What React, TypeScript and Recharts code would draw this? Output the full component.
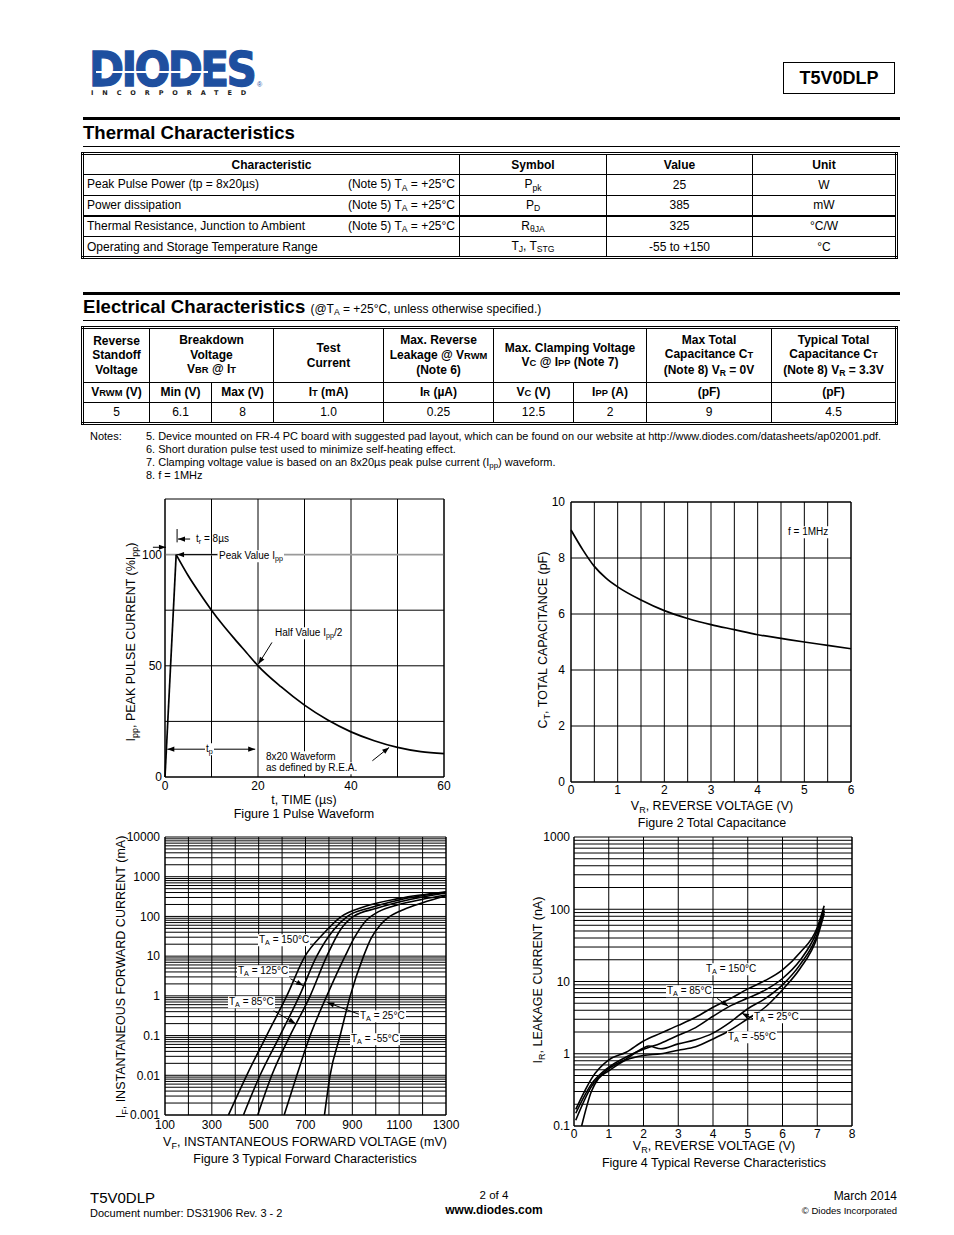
import React from 'react';
import { LineChart, Line, XAxis, YAxis, CartesianGrid, ReferenceLine } from 'recharts';

const FONT = "'Liberation Sans', Arial, Helvetica, sans-serif";
const BLUE = '#1e4f9f';

// ---------- Figure 1: pulse waveform ----------
const fig1Rise = [{ t: 0, i: 0 }, { t: 2.4, i: 100 }];
const fig1Decay = [
  { t: 2.4, i: 100 }, { t: 5, i: 90.5 }, { t: 7.5, i: 82.5 }, { t: 10, i: 75 }, { t: 12.5, i: 68.2 },
  { t: 15, i: 62 }, { t: 17.5, i: 56 }, { t: 20, i: 50 }, { t: 25, i: 40.5 }, { t: 30, i: 32.3 },
  { t: 35, i: 25.6 }, { t: 40, i: 20.3 }, { t: 45, i: 16.3 }, { t: 50, i: 13.3 }, { t: 55, i: 11.4 },
  { t: 60, i: 10.5 },
];
const fig1XGrid = [0, 10, 20, 30, 40, 50, 60];
const fig1XLabels = [0, 20, 40, 60];
const fig1YGrid = [0, 25, 50, 75, 100, 125];
const fig1YLabels = [0, 50, 100];

// ---------- Figure 2: total capacitance ----------
const fig2Cap = [
  { v: 0, c: 9.0 }, { v: 0.25, c: 8.3 }, { v: 0.5, c: 7.7 }, { v: 0.75, c: 7.28 }, { v: 1, c: 6.97 },
  { v: 1.5, c: 6.5 }, { v: 2, c: 6.12 }, { v: 2.5, c: 5.84 }, { v: 3, c: 5.62 }, { v: 3.5, c: 5.44 },
  { v: 4, c: 5.26 }, { v: 4.5, c: 5.13 }, { v: 5, c: 5.0 }, { v: 5.5, c: 4.88 }, { v: 6, c: 4.76 },
];
const fig2XGrid = [0, 0.5, 1, 1.5, 2, 2.5, 3, 3.5, 4, 4.5, 5, 5.5, 6];
const fig2YGrid = [0, 2, 4, 6, 8, 10];

// ---------- Figure 3: forward characteristics (mV, mA) ----------
const fwd150 = [
  { v: 371, i: 0.001 }, { v: 449, i: 0.01 }, { v: 534, i: 0.1 }, { v: 620, i: 1 }, { v: 698, i: 10 },
  { v: 777, i: 37 }, { v: 848, i: 95 }, { v: 950, i: 175 }, { v: 1100, i: 285 }, { v: 1300, i: 420 },
];
const fwd125 = [
  { v: 435, i: 0.001 }, { v: 506, i: 0.01 }, { v: 591, i: 0.1 }, { v: 674, i: 1 }, { v: 748, i: 10 },
  { v: 819, i: 45 }, { v: 879, i: 100 }, { v: 976, i: 165 }, { v: 1100, i: 260 }, { v: 1300, i: 405 },
];
const fwd85 = [
  { v: 496, i: 0.001 }, { v: 556, i: 0.01 }, { v: 634, i: 0.1 }, { v: 720, i: 1 }, { v: 791, i: 10 },
  { v: 848, i: 45 }, { v: 905, i: 100 }, { v: 1004, i: 160 }, { v: 1150, i: 270 }, { v: 1300, i: 390 },
];
const fwd25 = [
  { v: 609, i: 0.001 }, { v: 663, i: 0.01 }, { v: 720, i: 0.1 }, { v: 791, i: 1 }, { v: 869, i: 10 },
  { v: 910, i: 30 }, { v: 960, i: 80 }, { v: 1010, i: 130 }, { v: 1100, i: 200 }, { v: 1200, i: 270 },
  { v: 1300, i: 345 },
];
const fwdM55 = [
  { v: 781, i: 0.001 }, { v: 805, i: 0.01 }, { v: 848, i: 0.1 }, { v: 891, i: 1 }, { v: 948, i: 10 },
  { v: 980, i: 28 }, { v: 1020, i: 62 }, { v: 1060, i: 100 }, { v: 1120, i: 150 }, { v: 1200, i: 220 },
  { v: 1300, i: 330 },
];
const fig3XGrid = [100, 200, 300, 400, 500, 600, 700, 800, 900, 1000, 1100, 1200, 1300];
const fig3XLabels = [100, 300, 500, 700, 900, 1100, 1300];

// ---------- Figure 4: reverse characteristics (V, nA) ----------
const rev150 = [
  { v: 0.05, i: 0.17 }, { v: 0.3, i: 0.3 }, { v: 0.5, i: 0.45 }, { v: 1, i: 0.82 }, { v: 1.5, i: 1.05 },
  { v: 2, i: 1.5 }, { v: 2.5, i: 1.93 }, { v: 3, i: 2.47 }, { v: 3.5, i: 3.2 }, { v: 4, i: 4.4 },
  { v: 4.5, i: 5.8 }, { v: 5, i: 7.9 }, { v: 5.5, i: 10.3 }, { v: 6, i: 14.5 }, { v: 6.5, i: 25 },
  { v: 7, i: 56 }, { v: 7.2, i: 112 },
];
const rev85 = [
  { v: 0.05, i: 0.15 }, { v: 0.5, i: 0.38 }, { v: 1, i: 0.65 }, { v: 1.5, i: 0.9 }, { v: 2, i: 1.15 },
  { v: 2.5, i: 1.4 }, { v: 3, i: 1.8 }, { v: 3.5, i: 2.3 }, { v: 4, i: 3.3 }, { v: 4.5, i: 4.6 },
  { v: 5, i: 5.9 }, { v: 5.5, i: 7.6 }, { v: 6, i: 11 }, { v: 6.5, i: 19.5 }, { v: 7, i: 51 }, { v: 7.2, i: 101 },
];
const rev25 = [
  { v: 0.05, i: 0.12 }, { v: 0.5, i: 0.35 }, { v: 1, i: 0.62 }, { v: 1.5, i: 0.85 }, { v: 2, i: 1.2 },
  { v: 2.15, i: 1.28 }, { v: 2.5, i: 1.17 }, { v: 3, i: 1.37 }, { v: 3.5, i: 1.56 }, { v: 4, i: 1.93 },
  { v: 4.5, i: 2.74 }, { v: 5, i: 4.2 }, { v: 5.5, i: 5.8 }, { v: 6, i: 9 }, { v: 6.5, i: 17 },
  { v: 7, i: 45 }, { v: 7.2, i: 95 },
];
const revM55 = [
  { v: 0.22, i: 0.1 }, { v: 0.5, i: 0.3 }, { v: 0.7, i: 0.45 }, { v: 1, i: 0.58 }, { v: 1.5, i: 0.82 },
  { v: 2, i: 0.95 }, { v: 2.5, i: 1.0 }, { v: 3, i: 1.12 }, { v: 3.5, i: 1.25 }, { v: 4, i: 1.6 },
  { v: 4.4, i: 2.0 }, { v: 5, i: 3.05 }, { v: 5.5, i: 4.4 }, { v: 6, i: 7.7 }, { v: 6.5, i: 15 },
  { v: 7, i: 41 }, { v: 7.2, i: 87 },
];
const fig4XGrid = [0, 1, 2, 3, 4, 5, 6, 7, 8];

// ---------- annotation arrows (data coordinates) ----------
const fig1Arrows = [
  { a: { x: 5.4, y: 107 }, b: { x: 2.8, y: 107 }, both: false },
  { a: { x: -2.6, y: 103.3 }, b: { x: 0.2, y: 103.3 }, both: false },
  { a: { x: 11.2, y: 100 }, b: { x: 2.6, y: 100 }, both: false },
  { a: { x: 23, y: 60.5 }, b: { x: 20.1, y: 50.8 }, both: false },
  { a: { x: 0.5, y: 12.5 }, b: { x: 19.4, y: 12.5 }, both: true },
  { a: { x: 44.6, y: 7.3 }, b: { x: 48.2, y: 13.3 }, both: false },
];
const fig3Arrows = [
  { a: { x: 636, y: 2.69 }, b: { x: 690, y: 1.81 }, both: false },
  { a: { x: 564, y: 0.42 }, b: { x: 657, y: 0.2 }, both: false },
  { a: { x: 928, y: 0.345 }, b: { x: 793, y: 0.68 }, both: false },
];
const fig4Arrows = [
  { a: { x: 4.12, y: 5.83 }, b: { x: 4.44, y: 4.56 }, both: false },
  { a: { x: 5.18, y: 3.0 }, b: { x: 4.83, y: 3.64 }, both: false },
];

function logTicks(e0: number, e1: number) {
  const out: number[] = [];
  for (let e = e0; e < e1; e++) {
    for (let m = 1; m <= 9; m++) out.push(Number((m * Math.pow(10, e)).toPrecision(3)));
  }
  out.push(Number(Math.pow(10, e1).toPrecision(3)));
  return out;
}
const isDecade = (v: number) => Math.abs(Math.log10(v) - Math.round(Math.log10(v))) < 1e-6;

const tickStyle = { fill: '#000', fontSize: 12, fontFamily: FONT };

function arrowShape(both: boolean) {
  return (p: any) => {
    const { x1, y1, x2, y2 } = p;
    const ang = Math.atan2(y2 - y1, x2 - x1);
    const L = 7, W = 2.6;
    const tri = (x: number, y: number, a: number) => {
      const bx = x - L * Math.cos(a), by = y - L * Math.sin(a);
      return `${x},${y} ${bx + W * Math.sin(a)},${by - W * Math.cos(a)} ${bx - W * Math.sin(a)},${by + W * Math.cos(a)}`;
    };
    return (
      <g>
        <line x1={x1} y1={y1} x2={x2} y2={y2} stroke="#000" strokeWidth={1} />
        <polygon points={tri(x2, y2, ang)} fill="#000" />
        {both ? <polygon points={tri(x1, y1, ang + Math.PI)} fill="#000" /> : null}
      </g>
    );
  };
}

const Sub = ({ children }: { children: React.ReactNode }) => (
  <span style={{ fontSize: '0.72em', position: 'relative', top: '0.28em' }}>{children}</span>
);
const Sm = ({ children }: { children: React.ReactNode }) => (
  <span style={{ fontSize: '0.78em' }}>{children}</span>
);

type TP = {
  x: number; y: number; a?: 's' | 'm' | 'e'; s?: number; b?: boolean; bg?: boolean; r?: boolean;
  children: React.ReactNode; style?: React.CSSProperties;
};
const Tx = ({ x, y, a = 's', s = 12, b, bg, r, children, style }: TP) => {
  const tx = r ? '-50%' : a === 's' ? '0' : a === 'm' ? '-50%' : '-100%';
  return (
    <div
      style={{
        position: 'absolute', left: x, top: y,
        transform: `translate(${tx},-50%)${r ? ' rotate(-90deg)' : ''}`,
        fontSize: s, fontWeight: b ? 700 : 400, whiteSpace: 'nowrap', lineHeight: 1.15,
        background: bg ? '#fff' : undefined, padding: bg ? '0 1px' : undefined, zIndex: 2, ...style,
      }}
    >
      {children}
    </div>
  );
};

const cell: React.CSSProperties = { border: '1px solid #000', padding: '0 4px', textAlign: 'center', verticalAlign: 'middle' };

// ---------- charts ----------
const YW = 45, XH = 25, MT = 10, MR = 15;

function Fig1() {
  const P = { x: 165, y: 499, w: 279, h: 278 };
  return (
    <div style={{ position: 'absolute', left: P.x - YW, top: P.y - MT }}>
      <LineChart width={YW + P.w + MR} height={MT + P.h + XH} margin={{ top: MT, right: MR, bottom: 0, left: 0 }}>
        <CartesianGrid horizontal={false} stroke="#000" strokeDasharray="" />
        <XAxis type="number" dataKey="t" domain={[0, 60]} ticks={fig1XGrid} interval={0}
          tickFormatter={(v: number) => (fig1XLabels.includes(v) ? String(v) : '')}
          height={XH} tickSize={0} tickMargin={4} axisLine={{ stroke: '#000' }} tick={tickStyle} />
        <YAxis type="number" domain={[0, 125]} ticks={fig1YLabels} interval={0} width={YW}
          tickSize={0} tickMargin={3} axisLine={{ stroke: '#000' }} tick={tickStyle} />
        {fig1YGrid.map((g) => (
          <ReferenceLine key={'h' + g} y={g} stroke={g === 100 ? '#9a9a9a' : '#000'} strokeWidth={g === 100 ? 1.6 : 1} ifOverflow="visible" />
        ))}
        <ReferenceLine x={60} stroke="#000" ifOverflow="visible" />
        <ReferenceLine segment={[{ x: 2.6, y: 105.5 }, { x: 2.6, y: 111.5 }]} stroke="#000" ifOverflow="visible" />
        {fig1Arrows.map((ar, k) => (
          <ReferenceLine key={'a' + k} segment={[ar.a, ar.b]} ifOverflow="visible" shape={arrowShape(ar.both)} />
        ))}
        <Line data={fig1Rise} dataKey="i" type="linear" stroke="#000" strokeWidth={1.7} dot={false} isAnimationActive={false} />
        <Line data={fig1Decay} dataKey="i" type="monotone" stroke="#000" strokeWidth={1.7} dot={false} isAnimationActive={false} />
      </LineChart>
    </div>
  );
}

function Fig2() {
  const P = { x: 571, y: 502, w: 280, h: 280 };
  return (
    <div style={{ position: 'absolute', left: P.x - YW, top: P.y - MT }}>
      <LineChart width={YW + P.w + MR} height={MT + P.h + XH} margin={{ top: MT, right: MR, bottom: 0, left: 0 }}>
        <CartesianGrid stroke="#000" strokeDasharray="" />
        <XAxis type="number" dataKey="v" domain={[0, 6]} ticks={fig2XGrid} interval={0}
          tickFormatter={(v: number) => (Number.isInteger(v) ? String(v) : '')}
          height={XH} tickSize={0} tickMargin={3} axisLine={{ stroke: '#000' }} tick={tickStyle} />
        <YAxis type="number" domain={[0, 10]} ticks={fig2YGrid} interval={0} width={YW}
          tickSize={0} tickMargin={6} axisLine={{ stroke: '#000' }} tick={tickStyle} />
        <ReferenceLine x={6} stroke="#000" ifOverflow="visible" />
        <ReferenceLine y={10} stroke="#000" ifOverflow="visible" />
        <Line data={fig2Cap} dataKey="c" type="monotone" stroke="#000" strokeWidth={1.7} dot={false} isAnimationActive={false} />
      </LineChart>
    </div>
  );
}

const fig3YTicks = logTicks(-3, 4);
function Fig3() {
  const P = { x: 165, y: 837, w: 281, h: 278 };
  const series = [fwd150, fwd125, fwd85, fwd25, fwdM55];
  return (
    <div style={{ position: 'absolute', left: P.x - YW, top: P.y - MT }}>
      <LineChart width={YW + P.w + MR} height={MT + P.h + XH} margin={{ top: MT, right: MR, bottom: 0, left: 0 }}>
        <CartesianGrid stroke="#000" strokeDasharray="" strokeWidth={1} />
        <XAxis type="number" dataKey="v" domain={[100, 1300]} ticks={fig3XGrid} interval={0}
          tickFormatter={(v: number) => (fig3XLabels.includes(v) ? String(v) : '')}
          height={XH} tickSize={0} tickMargin={5} axisLine={{ stroke: '#000' }} tick={tickStyle} />
        <YAxis type="number" scale="log" domain={[0.001, 10000]} allowDataOverflow ticks={fig3YTicks} interval={0} width={YW}
          tickFormatter={(v: number) => (isDecade(v) ? String(v) : '')}
          tickSize={0} tickMargin={5} axisLine={{ stroke: '#000' }} tick={tickStyle} />
        <ReferenceLine x={1300} stroke="#000" ifOverflow="visible" />
        {fig3Arrows.map((ar, k) => (
          <ReferenceLine key={'a' + k} segment={[ar.a, ar.b]} ifOverflow="visible" shape={arrowShape(ar.both)} />
        ))}
        {series.map((d, k) => (
          <Line key={k} data={d} dataKey="i" type="monotone" stroke="#000" strokeWidth={1.6} dot={false} isAnimationActive={false} />
        ))}
      </LineChart>
    </div>
  );
}

const fig4YTicks = logTicks(-1, 3);
function Fig4() {
  const P = { x: 574, y: 837, w: 278, h: 289 };
  const series = [rev150, rev85, rev25, revM55];
  return (
    <div style={{ position: 'absolute', left: P.x - YW, top: P.y - MT }}>
      <LineChart width={YW + P.w + MR} height={MT + P.h + XH} margin={{ top: MT, right: MR, bottom: 0, left: 0 }}>
        <CartesianGrid stroke="#000" strokeDasharray="" strokeWidth={1} />
        <XAxis type="number" dataKey="v" domain={[0, 8]} ticks={fig4XGrid} interval={0}
          height={XH} tickSize={0} tickMargin={3} axisLine={{ stroke: '#000' }} tick={tickStyle} />
        <YAxis type="number" scale="log" domain={[0.1, 1000]} allowDataOverflow ticks={fig4YTicks} interval={0} width={YW}
          tickFormatter={(v: number) => (isDecade(v) ? String(v) : '')}
          tickSize={0} tickMargin={4} axisLine={{ stroke: '#000' }} tick={tickStyle} />
        <ReferenceLine x={8} stroke="#000" ifOverflow="visible" />
        {fig4Arrows.map((ar, k) => (
          <ReferenceLine key={'a' + k} segment={[ar.a, ar.b]} ifOverflow="visible" shape={arrowShape(ar.both)} />
        ))}
        {series.map((d, k) => (
          <Line key={k} data={d} dataKey="i" type="monotone" stroke="#000" strokeWidth={1.6} dot={false} isAnimationActive={false} />
        ))}
      </LineChart>
    </div>
  );
}

export default function App() {
  const rule = (top: number, h: number): React.CSSProperties => ({ position: 'absolute', left: 83, top, width: 817, height: h, background: '#000' });
  return (
    <div style={{ position: 'absolute', left: 0, top: 0, width: 954, height: 1235, background: '#fff', fontFamily: FONT, color: '#000', overflow: 'hidden' }}>
      {/* Logo */}
      <div style={{ position: 'absolute', left: 89, top: 50, fontFamily: "'DejaVu Sans', sans-serif", fontWeight: 700, fontSize: 48, lineHeight: 0.8, color: BLUE, WebkitTextStroke: `1.3px ${BLUE}`, letterSpacing: -3, transform: 'scaleX(0.88)', transformOrigin: 'left top', whiteSpace: 'nowrap' }}>DIODES</div>
      <div style={{ position: 'absolute', left: 96, top: 71, width: 112, height: 1.6, background: '#fff' }} />
      <div style={{ position: 'absolute', left: 257, top: 81, fontSize: 7, lineHeight: 1, color: BLUE }}>®</div>
      <div style={{ position: 'absolute', left: 91, top: 90, fontFamily: "'DejaVu Sans', sans-serif", fontWeight: 700, fontSize: 6.5, lineHeight: 1, letterSpacing: 8.9, whiteSpace: 'nowrap', color: '#222' }}>INCORPORATED</div>

      {/* part number box */}
      <div style={{ position: 'absolute', left: 783, top: 62, width: 110, height: 30, border: '1.5px solid #000', display: 'flex', alignItems: 'center', justifyContent: 'center', fontWeight: 700, fontSize: 18 }}>T5V0DLP</div>

      {/* Thermal */}
      <div style={rule(117, 3)} />
      <Tx x={83} y={133} s={18.6} b>Thermal Characteristics</Tx>
      <div style={rule(146, 1.3)} />
      <table style={{ position: 'absolute', left: 81, top: 152, width: 817, borderCollapse: 'collapse', border: '3px double #000', tableLayout: 'fixed', fontSize: 12, lineHeight: '14px' }}>
        <colgroup><col style={{ width: 377 }} /><col style={{ width: 147 }} /><col style={{ width: 146 }} /><col /></colgroup>
        <tbody>
          <tr style={{ height: 21 }}>
            <th style={cell}>Characteristic</th><th style={cell}>Symbol</th><th style={cell}>Value</th><th style={cell}>Unit</th>
          </tr>
          <tr style={{ height: 20.5 }}>
            <td style={{ ...cell, textAlign: 'left', padding: '0 4px 0 3px' }}><div style={{ display: 'flex', justifyContent: 'space-between' }}><span>Peak Pulse Power (tp = 8x20µs)</span><span>(Note 5) T<Sub>A</Sub> = +25°C</span></div></td>
            <td style={cell}>P<Sub>pk</Sub></td><td style={cell}>25</td><td style={cell}>W</td>
          </tr>
          <tr style={{ height: 20.5 }}>
            <td style={{ ...cell, textAlign: 'left', padding: '0 4px 0 3px' }}><div style={{ display: 'flex', justifyContent: 'space-between' }}><span>Power dissipation</span><span>(Note 5) T<Sub>A</Sub> = +25°C</span></div></td>
            <td style={cell}>P<Sub>D</Sub></td><td style={cell}>385</td><td style={cell}>mW</td>
          </tr>
          <tr style={{ height: 21 }}>
            <td style={{ ...cell, borderTop: '2px solid #000', textAlign: 'left', padding: '0 4px 0 3px' }}><div style={{ display: 'flex', justifyContent: 'space-between' }}><span>Thermal Resistance, Junction to Ambient</span><span>(Note 5) T<Sub>A</Sub> = +25°C</span></div></td>
            <td style={{ ...cell, borderTop: '2px solid #000' }}>R<Sub>θJA</Sub></td><td style={{ ...cell, borderTop: '2px solid #000' }}>325</td><td style={{ ...cell, borderTop: '2px solid #000' }}>°C/W</td>
          </tr>
          <tr style={{ height: 21 }}>
            <td style={{ ...cell, textAlign: 'left', padding: '0 4px 0 3px' }}>Operating and Storage Temperature Range</td>
            <td style={cell}>T<Sub>J</Sub>, T<Sub>STG</Sub></td><td style={cell}>-55 to +150</td><td style={cell}>°C</td>
          </tr>
        </tbody>
      </table>

      {/* Electrical */}
      <div style={rule(292, 3)} />
      <Tx x={83} y={307} s={18.6} b>Electrical Characteristics <span style={{ fontSize: 12, fontWeight: 400 }}>(@T<Sub>A</Sub> = +25°C, unless otherwise specified.)</span></Tx>
      <div style={rule(320, 1.3)} />
      <table style={{ position: 'absolute', left: 81, top: 326, width: 817, borderCollapse: 'collapse', border: '3px double #000', tableLayout: 'fixed', fontSize: 12, lineHeight: '14.5px' }}>
        <colgroup>
          <col style={{ width: 67 }} /><col style={{ width: 62 }} /><col style={{ width: 62 }} /><col style={{ width: 110 }} />
          <col style={{ width: 110 }} /><col style={{ width: 80 }} /><col style={{ width: 73 }} /><col style={{ width: 125 }} /><col />
        </colgroup>
        <tbody>
          <tr style={{ height: 55 }}>
            <th style={cell}>Reverse<br />Standoff<br />Voltage</th>
            <th style={cell} colSpan={2}>Breakdown<br />Voltage<br />V<Sm>BR</Sm> @ I<Sm>T</Sm></th>
            <th style={cell}>Test<br />Current</th>
            <th style={cell}>Max. Reverse<br />Leakage @ V<Sm>RWM</Sm><br />(Note 6)</th>
            <th style={cell} colSpan={2}>Max. Clamping Voltage<br />V<Sm>C</Sm> @ I<Sm>PP</Sm> (Note 7)</th>
            <th style={cell}>Max Total<br />Capacitance C<Sm>T</Sm><br />(Note 8) V<Sub>R</Sub> = 0V</th>
            <th style={cell}>Typical Total<br />Capacitance C<Sm>T</Sm><br />(Note 8) V<Sub>R</Sub> = 3.3V</th>
          </tr>
          <tr style={{ height: 20 }}>
            <th style={cell}>V<Sm>RWM</Sm> (V)</th><th style={cell}>Min (V)</th><th style={cell}>Max (V)</th>
            <th style={cell}>I<Sm>T</Sm> (mA)</th><th style={cell}>I<Sm>R</Sm> (µA)</th><th style={cell}>V<Sm>C</Sm> (V)</th>
            <th style={cell}>I<Sm>PP</Sm> (A)</th><th style={cell}>(pF)</th><th style={cell}>(pF)</th>
          </tr>
          <tr style={{ height: 21 }}>
            <td style={cell}>5</td><td style={cell}>6.1</td><td style={cell}>8</td><td style={cell}>1.0</td><td style={cell}>0.25</td>
            <td style={cell}>12.5</td><td style={cell}>2</td><td style={cell}>9</td><td style={cell}>4.5</td>
          </tr>
        </tbody>
      </table>

      {/* Notes */}
      <Tx x={90} y={436} s={11}>Notes:</Tx>
      <Tx x={146} y={436} s={10.95}>5. Device mounted on FR-4 PC board with suggested pad layout, which can be found on our website at http://www.diodes.com/datasheets/ap02001.pdf.</Tx>
      <Tx x={146} y={449} s={11}>6. Short duration pulse test used to minimize self-heating effect.</Tx>
      <Tx x={146} y={462} s={11}>7. Clamping voltage value is based on an 8x20µs peak pulse current (I<Sub>pp</Sub>) waveform.</Tx>
      <Tx x={146} y={475} s={11}>8. f = 1MHz</Tx>

      {/* Charts */}
      <Fig1 />
      <Fig2 />
      <Fig3 />
      <Fig4 />

      {/* Fig1 texts */}
      <Tx x={196} y={539} s={10}>t<Sub>r</Sub> = 8µs</Tx>
      <Tx x={218} y={556} s={10} bg>Peak Value I<Sub>pp</Sub></Tx>
      <Tx x={274} y={633} s={10} bg>Half Value I<Sub>pp</Sub>/2</Tx>
      <Tx x={205} y={749} s={10} bg>t<Sub>p</Sub></Tx>
      <Tx x={265} y={757} s={10} bg>8x20 Waveform</Tx>
      <Tx x={265} y={768} s={10} bg>as defined by R.E.A.</Tx>
      <Tx x={304} y={800} a="m" s={12.5}>t, TIME (µs)</Tx>
      <Tx x={304} y={814} a="m" s={12.5}>Figure 1  Pulse Waveform</Tx>
      <Tx x={131} y={642} r s={12.5}>I<Sub>pp</Sub>, PEAK PULSE CURRENT (%I<Sub>pp</Sub>)</Tx>

      {/* Fig2 texts */}
      <Tx x={787} y={532} s={10} bg>f = 1MHz</Tx>
      <Tx x={712} y={806} a="m" s={12.5}>V<Sub>R</Sub>, REVERSE VOLTAGE (V)</Tx>
      <Tx x={712} y={823} a="m" s={12.5}>Figure 2  Total Capacitance</Tx>
      <Tx x={543} y={640} r s={12.5}>C<Sub>T</Sub>, TOTAL CAPACITANCE (pF)</Tx>

      {/* Fig3 texts */}
      <Tx x={258} y={940} s={10} bg>T<Sub>A</Sub> = 150°C</Tx>
      <Tx x={237} y={971} s={10} bg>T<Sub>A</Sub> = 125°C</Tx>
      <Tx x={228} y={1002} s={10} bg>T<Sub>A</Sub> = 85°C</Tx>
      <Tx x={359} y={1016} s={10} bg>T<Sub>A</Sub> = 25°C</Tx>
      <Tx x={350} y={1039} s={10} bg>T<Sub>A</Sub> = -55°C</Tx>
      <Tx x={305} y={1142} a="m" s={12.5}>V<Sub>F</Sub>, INSTANTANEOUS FORWARD VOLTAGE (mV)</Tx>
      <Tx x={305} y={1159} a="m" s={12.5}>Figure 3 Typical Forward Characteristics</Tx>
      <Tx x={121} y={977} r s={12.5}>I<Sub>F</Sub>, INSTANTANEOUS FORWARD CURRENT (mA)</Tx>

      {/* Fig4 texts */}
      <Tx x={705} y={969} s={10} bg>T<Sub>A</Sub> = 150°C</Tx>
      <Tx x={666} y={991} s={10} bg>T<Sub>A</Sub> = 85°C</Tx>
      <Tx x={753} y={1017} s={10} bg>T<Sub>A</Sub> = 25°C</Tx>
      <Tx x={727} y={1037} s={10} bg>T<Sub>A</Sub> = -55°C</Tx>
      <Tx x={714} y={1146} a="m" s={12.5}>V<Sub>R</Sub>, REVERSE VOLTAGE (V)</Tx>
      <Tx x={714} y={1163} a="m" s={12.5}>Figure 4 Typical Reverse Characteristics</Tx>
      <Tx x={538} y={980} r s={12.5}>I<Sub>R</Sub>, LEAKAGE CURRENT (nA)</Tx>

      {/* Footer */}
      <Tx x={90} y={1198} s={15}>T5V0DLP</Tx>
      <Tx x={90} y={1213} s={11}>Document number: DS31906 Rev. 3 - 2</Tx>
      <Tx x={494} y={1196} a="m" s={11.5}>2 of 4</Tx>
      <Tx x={494} y={1211} a="m" s={12} b>www.diodes.com</Tx>
      <Tx x={897} y={1197} a="e" s={12}>March 2014</Tx>
      <Tx x={897} y={1211} a="e" s={9.5}>© Diodes Incorporated</Tx>
    </div>
  );
}
